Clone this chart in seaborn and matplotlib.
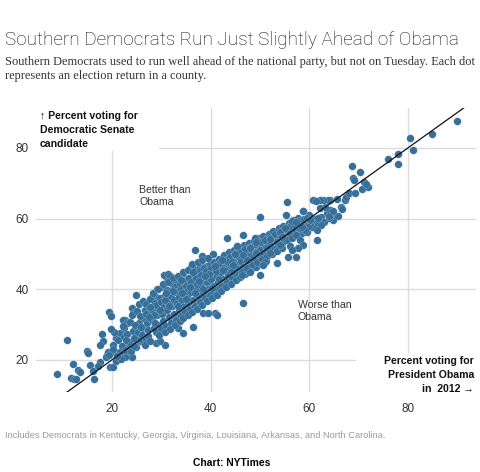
import matplotlib
matplotlib.use("Agg")
import matplotlib.pyplot as plt
import seaborn as sns
import pandas as pd

# ---------------- data: (Obama 2012 %, Democratic Senate %) per county ----------------
low_tail = [
    (8.8, 16.0), (10.9, 25.6), (12.0, 18.9), (11.6, 14.9), (12.3, 14.5), (12.7, 14.7),
    (13.1, 17.2), (13.6, 16.6), (15.0, 22.5), (15.2, 21.8), (15.5, 18.6), (16.4, 14.6),
    (16.2, 16.8), (17.5, 19.5), (17.2, 18.3), (17.9, 27.3), (18.2, 25.2), (17.5, 24.2),
    (19.5, 33.6), (19.9, 32.4), (19.6, 17.9), (20.2, 17.9), (18.9, 21.4), (19.2, 22.3),
    (18.8, 20.7), (20.2, 24.2), (20.9, 26.1), (20.6, 22.3), (21.6, 27.5), (22.4, 29.0),
    (22.6, 31.3), (23.0, 23.7), (23.3, 21.4), (24.0, 20.9), (22.6, 20.7), (24.0, 34.6),
    (24.3, 33.2), (25.0, 27.1), (25.7, 25.2), (24.6, 24.7), (22.3, 31.3), (23.0, 30.4),
]

mid_edges = [
    (24.8, 38.4), (27.0, 29.4), (27.3, 31.3), (28.4, 34.1), (29.0, 37.9), (28.0, 37.4),
    (29.2, 40.0), (30.4, 40.7), (31.1, 39.8), (32.4, 41.2), (30.7, 24.2), (31.1, 43.1),
    (30.6, 44.0), (31.4, 44.3), (31.7, 43.6), (33.1, 42.2), (34.1, 41.9), (34.8, 43.1),
    (36.1, 46.4), (36.5, 44.1), (35.8, 42.6), (36.8, 51.1), (38.2, 49.4), (38.5, 46.4),
    (39.2, 46.6), (40.4, 50.0), (36.5, 46.0), (37.8, 46.4), (38.8, 46.4), (39.5, 45.5),
    (40.0, 44.5), (35.1, 42.6), (37.2, 43.1), (36.4, 29.4), (40.9, 33.2), (34.4, 27.5),
    (29.0, 24.7), (29.7, 25.2), (33.4, 29.0), (38.5, 33.2), (39.5, 33.4), (41.2, 32.7),
    (46.6, 36.0), (43.4, 54.5), (45.3, 52.1), (42.9, 49.2), (44.6, 49.2), (40.5, 46.4),
    (41.9, 47.4), (43.2, 46.4), (43.9, 45.5), (45.9, 46.4),
]

core_low = [
    (19.5, 21.5), (20.3, 23.0), (20.8, 19.8), (21.2, 25.5), (20.5, 27.8), (21.6, 22.1), (19.8, 28.8),
    (22.0, 24.0), (22.4, 26.6), (21.8, 20.3), (22.7, 22.8), (22.2, 29.5), (23.0, 27.2),
    (23.4, 25.0), (23.8, 22.5), (24.2, 28.3), (23.6, 30.8), (24.5, 26.1), (24.0, 32.6), (24.8, 23.6),
    (25.2, 27.9), (25.5, 30.4), (25.0, 33.7), (25.8, 25.9), (25.4, 35.9),
    (26.1, 29.0), (26.4, 31.8), (26.0, 27.0), (26.7, 34.2), (26.3, 36.6), (26.9, 25.9),
    (27.1, 30.5), (27.4, 28.4), (27.6, 33.1), (27.0, 35.8), (27.8, 37.2), (27.3, 26.8),
    (28.2, 31.2), (28.5, 29.1), (28.0, 33.9), (28.7, 36.0), (28.3, 38.8), (28.9, 27.9),
    (29.2, 32.7), (29.5, 30.0), (29.0, 35.4), (29.7, 37.6), (29.4, 40.2), (29.9, 28.6),
    (30.1, 33.0), (30.4, 31.1), (30.0, 36.3), (30.7, 38.5), (30.3, 41.6), (30.9, 29.6), (30.5, 35.0),
    (31.2, 34.2), (31.5, 32.0), (31.0, 37.3), (31.7, 39.6), (31.4, 42.0), (31.9, 30.4), (31.3, 36.0),
    (32.1, 35.2), (32.5, 33.1), (32.0, 38.2), (32.7, 40.5), (32.3, 43.3), (32.9, 31.2), (32.6, 36.9),
]

core_mid = [
    (33.2, 36.1), (33.5, 34.0), (33.0, 39.3), (33.8, 41.4), (33.4, 43.7), (33.9, 32.3), (33.6, 37.8),
    (34.1, 37.0), (34.5, 35.0), (34.0, 40.1), (34.7, 42.3), (34.3, 44.9), (34.9, 33.5), (34.6, 38.6),
    (35.2, 38.1), (35.5, 36.0), (35.0, 41.0), (35.7, 43.3), (35.4, 45.5), (35.9, 34.4), (35.3, 39.6),
    (36.1, 39.2), (36.5, 37.0), (36.0, 42.0), (36.7, 44.2), (36.3, 47.0), (36.9, 35.3), (36.6, 40.5),
    (37.2, 40.0), (37.5, 38.0), (37.0, 43.1), (37.8, 45.2), (37.4, 47.6), (37.9, 36.4), (37.3, 41.5),
    (38.1, 41.1), (38.5, 39.0), (38.0, 44.0), (38.7, 46.0), (38.3, 48.2), (38.9, 37.5), (38.6, 42.6),
    (39.2, 42.0), (39.5, 40.0), (39.0, 45.1), (39.8, 47.0), (39.4, 48.8), (39.9, 38.3), (39.3, 43.5),
    (40.1, 42.9), (40.5, 41.0), (40.0, 45.9), (40.7, 47.8), (40.4, 39.2), (40.9, 44.5),
    (41.2, 43.8), (41.5, 42.0), (41.0, 46.8), (41.8, 48.5), (41.4, 40.2), (41.9, 45.3),
    (42.1, 44.8), (42.5, 43.0), (42.0, 47.5), (42.7, 49.6), (42.3, 41.0), (42.9, 46.3),
    (43.2, 45.6), (43.5, 44.0), (43.0, 48.2), (43.8, 50.5), (43.4, 42.1), (43.9, 47.0),
    (44.1, 46.5), (44.5, 44.8), (44.0, 49.0), (44.7, 51.2), (44.4, 43.3), (44.9, 47.8),
    (45.2, 47.2), (45.5, 45.6), (45.0, 50.0), (45.8, 51.8), (45.4, 44.0), (45.9, 48.7),
]

# extra counties packed into the dense band (many sit just below the diagonal)
core_fill = [
    (21.0, 21.0), (22.9, 25.6), (24.4, 24.0), (25.6, 32.4), (26.6, 24.3), (27.8, 25.2),
    (28.6, 32.6), (29.6, 27.0), (30.8, 27.9), (31.8, 28.6), (32.8, 29.8), (33.7, 30.9),
    (34.4, 31.9), (35.4, 32.6), (36.2, 33.6), (37.2, 34.4), (38.2, 35.4), (39.2, 36.6),
    (40.2, 37.6), (41.2, 38.5), (42.2, 39.4), (43.2, 40.6), (44.2, 41.6), (45.1, 42.5),
    (46.0, 43.4), (47.0, 44.3), (48.2, 45.6), (49.1, 46.4), (50.3, 47.2), (51.2, 48.0),
    (24.7, 30.0), (25.9, 29.4), (26.8, 32.9), (27.7, 35.0), (28.8, 30.3), (29.8, 34.0),
    (30.8, 36.9), (31.6, 35.3), (32.4, 39.5), (33.3, 35.2), (34.2, 38.9), (35.1, 37.3),
    (35.8, 40.7), (36.8, 38.8), (37.7, 42.3), (38.4, 40.2), (39.6, 44.2), (40.3, 40.4),
    (41.1, 45.2), (41.7, 43.0), (42.6, 45.4), (43.6, 47.6), (44.3, 45.2), (45.6, 49.3),
    (46.4, 47.3), (47.6, 49.8), (48.3, 51.0), (49.6, 51.6), (50.8, 52.6), (51.6, 53.3),
    (52.8, 53.9), (53.7, 55.4), (54.8, 57.4), (55.6, 56.1), (56.8, 57.1), (57.7, 58.0),
    (31.0, 38.8), (33.9, 42.6), (36.4, 45.0), (38.9, 43.8), (42.4, 48.3), (27.5, 32.0),
]

core_high = [
    (46.1, 48.0), (46.5, 46.4), (46.0, 50.8), (46.7, 52.5), (46.3, 45.0),
    (47.2, 48.8), (47.5, 47.2), (47.0, 51.4), (47.8, 53.0), (47.4, 46.0),
    (48.1, 49.6), (48.5, 48.1), (48.0, 52.0), (48.7, 53.7), (48.4, 47.0),
    (49.2, 50.5), (49.5, 49.0), (49.0, 52.8), (49.8, 54.5), (49.4, 47.8),
    (50.1, 51.2), (50.5, 49.8), (50.0, 53.4), (50.7, 55.0), (50.4, 48.5),
    (51.2, 52.0), (51.5, 50.6), (51.0, 54.0), (51.8, 55.6), (51.4, 49.3),
    (52.1, 52.8), (52.5, 51.4), (52.0, 54.8), (52.7, 56.5), (52.4, 50.0),
    (53.2, 53.6), (53.5, 52.0), (53.0, 55.5), (53.8, 57.2), (53.4, 50.9),
    (54.1, 54.5), (54.5, 53.0), (54.0, 56.3), (54.7, 58.0), (54.4, 51.6),
    (55.2, 55.2), (55.5, 53.8), (55.0, 57.0), (55.8, 58.8),
    (56.1, 56.0), (56.5, 54.5), (56.0, 57.8), (56.7, 59.5),
    (57.2, 56.8), (57.5, 55.3), (57.0, 58.5), (57.8, 60.2),
    (58.1, 57.5), (58.5, 56.0), (58.0, 59.2),
    (59.2, 58.2), (59.5, 57.0), (59.0, 60.0),
    (60.3, 59.0), (60.6, 57.5), (60.0, 61.0),
    (61.2, 59.8), (61.8, 58.5), (62.4, 60.4), (63.0, 59.0), (63.5, 61.5), (64.3, 62.5), (64.6, 61.0),
]

upper_spread = [
    (46.6, 55.4), (49.0, 54.4), (49.3, 53.5), (52.0, 54.2), (45.4, 52.1), (48.0, 51.6),
    (44.9, 49.9), (53.5, 53.5), (54.1, 52.6), (55.7, 49.2), (53.4, 47.4), (51.0, 47.8),
    (50.7, 46.9), (48.6, 49.2), (49.3, 50.2), (40.9, 46.7), (44.3, 47.8), (44.6, 46.9),
    (54.1, 56.3), (54.4, 54.9), (57.4, 55.4), (58.1, 54.0), (58.8, 52.6), (57.8, 51.6),
    (59.5, 56.3), (56.1, 52.1), (56.4, 51.1), (57.4, 49.2), (51.4, 51.6), (52.0, 50.2),
    (46.6, 49.7), (47.3, 48.3), (46.3, 44.1), (48.0, 45.0), (50.0, 44.1),
    (55.4, 64.8), (58.7, 62.2), (55.3, 60.9), (50.0, 60.5), (56.4, 59.3), (57.4, 59.1),
    (55.1, 57.3), (58.1, 57.3), (61.5, 54.0),
]

high_tail = [
    (58.8, 62.2), (59.5, 60.1), (60.1, 59.6), (61.8, 60.1), (62.3, 58.2), (61.5, 56.8),
    (59.8, 57.7), (59.1, 56.8), (58.5, 57.7), (64.9, 59.6), (64.1, 60.1), (63.9, 60.6),
    (65.9, 60.8), (64.9, 62.0), (66.4, 63.4), (66.6, 62.7), (63.2, 63.4), (62.2, 62.9),
    (64.2, 65.3), (63.7, 65.3), (62.8, 65.3), (62.2, 65.3), (60.8, 65.3), (61.4, 65.0),
    (65.7, 65.6), (67.2, 65.3), (67.4, 66.2), (68.0, 67.2), (69.3, 67.2), (70.6, 68.4),
    (72.0, 68.8), (71.0, 70.3), (71.4, 69.7), (68.9, 71.6), (69.1, 70.8), (70.3, 73.2),
    (68.7, 75.0), (75.9, 76.8), (77.9, 78.3), (77.9, 75.4), (80.4, 82.8), (81.0, 79.3),
    (84.9, 84.0), (89.9, 87.7),
]

x_ticks = [20, 40, 60, 80]
y_ticks = [20, 40, 60, 80]

# ---------------- build frame ----------------
pts = low_tail + mid_edges + core_low + core_mid + core_fill + core_high + upper_spread + high_tail
df = pd.DataFrame(pts, columns=["obama", "senate"])

sns.set_theme(style="white")
plt.rcParams["font.family"] = ["Liberation Sans", "DejaVu Sans"]

W, H = 481, 472
fig = plt.figure(figsize=(W / 100, H / 100), dpi=100)

# axes extents (pixels) -> figure fraction
ax_l, ax_r, ax_t, ax_b = 36, 476, 108, 392
ax = fig.add_axes([ax_l / W, 1 - ax_b / H, (ax_r - ax_l) / W, (ax_b - ax_t) / H])
xmin, xmax = 4.6, 93.8
ymin, ymax = 10.9, 91.3
ax.set_xlim(xmin, xmax)
ax.set_ylim(ymin, ymax)
for s in ax.spines.values():
    s.set_visible(False)

grid_kw = dict(color="#dcdcdc", lw=1.0, zorder=0)
# vertical gridlines (clipped around labels like the original)
ax.plot([20, 20], [ymin, 79.2], **grid_kw)
ax.plot([40, 40], [ymin, ymax], **grid_kw)
ax.plot([60, 60], [ymin, ymax], **grid_kw)
ax.plot([80, 80], [22.2, ymax], **grid_kw)
# horizontal gridlines
ax.plot([29.5, xmax], [80, 80], **grid_kw)
ax.plot([xmin, xmax], [60, 60], **grid_kw)
ax.plot([xmin, xmax], [40, 40], **grid_kw)
ax.plot([xmin, 69.3], [20, 20], **grid_kw)

sns.scatterplot(data=df, x="obama", y="senate", ax=ax, s=30, color="#36709a",
                edgecolor="white", linewidth=0.12, alpha=1.0, zorder=2, legend=False)

ax.plot([10.8, 91.6], [10.8, 91.6], color="#111111", lw=0.9, zorder=3)

ax.set_xticks(x_ticks)
ax.set_yticks(y_ticks)
ax.set_xticklabels([str(t) for t in x_ticks])
ax.set_yticklabels([str(t) for t in y_ticks])
ax.tick_params(axis="x", length=0, pad=8, labelsize=8.5, labelcolor="#333333")
ax.tick_params(axis="y", length=0, pad=5, labelsize=8.5, labelcolor="#333333")
ax.set_xlabel("")
ax.set_ylabel("")
ax.grid(False)


def ftext(px, py, s, **kw):
    fig.text(px / W, 1 - py / H, s, **kw)


# Title and subtitle
ftext(5, 45, "Southern Democrats Run Just Slightly Ahead of Obama", fontsize=13.7,
      family=["Roboto", "DejaVu Sans"], fontweight="light", color="#111111", va="baseline")
ftext(5, 65, "Southern Democrats used to run well ahead of the national party, but not on Tuesday. Each dot",
      fontsize=8.95, family=["Liberation Serif", "DejaVu Serif"], color="#333333", va="baseline")
ftext(5, 79, "represents an election return in a county.",
      fontsize=8.95, family=["Liberation Serif", "DejaVu Serif"], color="#333333", va="baseline")

# axis annotations
bold = dict(fontsize=7.6, fontweight="bold", color="#111111", va="baseline")
ftext(40, 119, "\u2191 Percent voting for", **bold)
ftext(40, 133, "Democratic Senate", **bold)
ftext(40, 147, "candidate", **bold)

ftext(474, 363.5, "Percent voting for", ha="right", **bold)
ftext(474, 377.5, "President Obama", ha="right", **bold)
ftext(474, 391.5, "in  2012 \u2192", ha="right", **bold)

reg = dict(fontsize=7.6, color="#333333", va="baseline")
ftext(139, 193, "Better than", **reg)
ftext(139, 205, "Obama", **reg)
ftext(298, 308, "Worse than", **reg)
ftext(298, 320, "Obama", **reg)

# footnote and credit
ftext(5, 438, "Includes Democrats in Kentucky, Georgia, Virginia, Louisiana, Arkansas, and North Carolina.",
      fontsize=6.7, color="#9a9a9a", va="baseline")
ftext(193, 466, "Chart: NYTimes", fontsize=7.4, fontweight="bold", color="#000000", va="baseline")

fig.savefig("out.png", dpi=100)
